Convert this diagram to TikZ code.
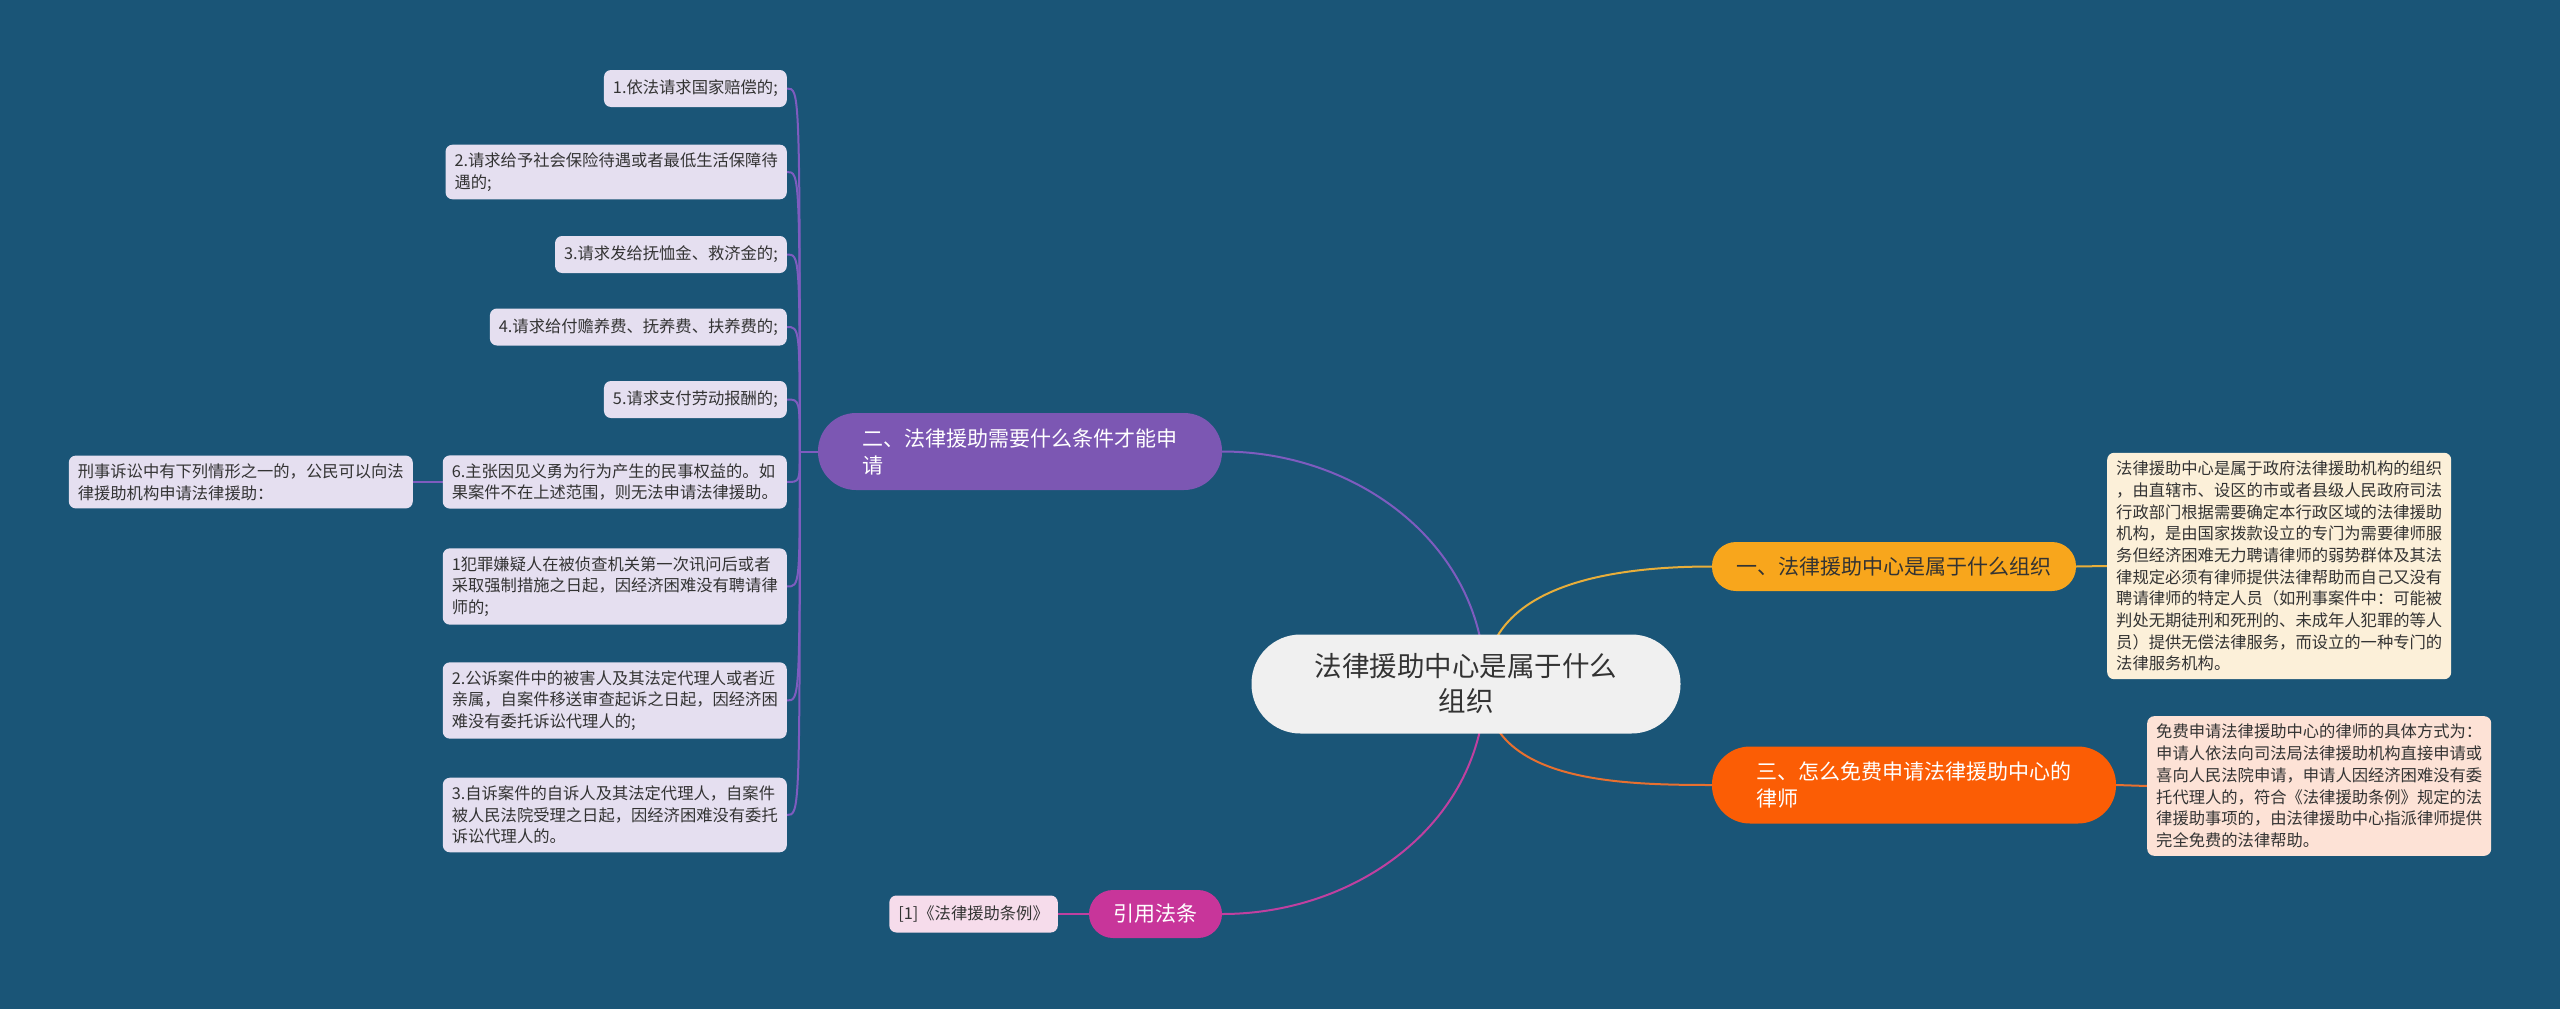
\documentclass[tikz,border=0pt]{standalone}
\usepackage{fontspec}
\setmainfont{Noto Sans CJK SC}

\definecolor{bgblue}{HTML}{1A5577}
\definecolor{textdark}{HTML}{333333}
\definecolor{rootgray}{HTML}{F0F0F0}
\definecolor{yellowfill}{HTML}{F8A61C}
\definecolor{yellowline}{HTML}{E8AE3A}
\definecolor{purplefill}{HTML}{7C57B3}
\definecolor{purpleline}{HTML}{7E5CBF}
\definecolor{orangefill}{HTML}{FB5D05}
\definecolor{orangeline}{HTML}{E8702F}
\definecolor{magentafill}{HTML}{C8359A}
\definecolor{magentaline}{HTML}{C040A0}
\definecolor{lavender}{HTML}{E5DFF0}
\definecolor{cream}{HTML}{FCF0D9}
\definecolor{peach}{HTML}{FDE2D6}
\definecolor{pink}{HTML}{F6DCEB}

\pgfdeclarelayer{bgl}
\pgfdeclarelayer{links}
\pgfsetlayers{bgl,links,main}

\tikzset{
  rootbox/.style={fill=rootgray, text=textdark, rounded corners=49pt, minimum width=429pt,
    minimum height=99pt, align=center, font=\fontsize{27.5}{35}\selectfont},
  topicbox/.style={rounded corners=24pt, minimum height=49pt, font=\fontsize{21}{27}\selectfont},
  widetopic/.style={topicbox, rounded corners=38pt, minimum width=404pt, minimum height=77pt,
    text width=316pt, align=left, text=white},
  leafbox/.style={fill=lavender, text=textdark, rounded corners=7pt, inner xsep=9pt, inner ysep=8pt,
    minimum height=37pt, align=left, font=\fontsize{16.3}{21.7}\selectfont},
  link/.style={line width=2pt}
}

\begin{document}
\begin{tikzpicture}[x=1pt,y=-1pt]
  % background
  \begin{pgfonlayer}{bgl}
    \fill[bgblue] (0,0) rectangle (2560,1009);
  \end{pgfonlayer}
  \useasboundingbox (0,0) rectangle (2560,1009);

  % root
  \node[rootbox] (root) at (1466,684) {法律援助中心是属于什么\\组织};
  \coordinate (hub) at ([xshift=19pt]root.center);

  % topics
  \node[topicbox, fill=yellowfill, text=textdark, minimum width=364pt] (b1) at (1894,566.5) {一、法律援助中心是属于什么组织};
  \node[widetopic, fill=purplefill] (b2) at (1020,451.5) {二、法律援助需要什么条件才能申\\请};
  \node[widetopic, fill=orangefill] (b3) at (1914,785) {三、怎么免费申请法律援助中心的\\律师};
  \node[topicbox, fill=magentafill, text=white, minimum width=133pt, minimum height=48pt] (b4) at (1155.5,914) {引用法条};

  % right leaves
  \node[leafbox, fill=cream, anchor=west] (r1) at (2107,566) {法律援助中心是属于政府法律援助机构的组织\\，由直辖市、设区的市或者县级人民政府司法\\行政部门根据需要确定本行政区域的法律援助\\机构，是由国家拨款设立的专门为需要律师服\\务但经济困难无力聘请律师的弱势群体及其法\\律规定必须有律师提供法律帮助而自己又没有\\聘请律师的特定人员（如刑事案件中：可能被\\判处无期徒刑和死刑的、未成年人犯罪的等人\\员）提供无偿法律服务，而设立的一种专门的\\法律服务机构。};
  \node[leafbox, fill=peach, anchor=west] (r3) at (2147,786) {免费申请法律援助中心的律师的具体方式为：\\申请人依法向司法局法律援助机构直接申请或\\喜向人民法院申请，申请人因经济困难没有委\\托代理人的，符合《法律援助条例》规定的法\\律援助事项的，由法律援助中心指派律师提供\\完全免费的法律帮助。};

  % left leaves
  \node[leafbox, anchor=east] (a1) at (787,88.5) {1.依法请求国家赔偿的;};
  \node[leafbox, anchor=east] (a2) at (787,172) {2.请求给予社会保险待遇或者最低生活保障待\\遇的;};
  \node[leafbox, anchor=east] (a3) at (787,254.5) {3.请求发给抚恤金、救济金的;};
  \node[leafbox, anchor=east] (a4) at (787,327) {4.请求给付赡养费、抚养费、扶养费的;};
  \node[leafbox, anchor=east] (a5) at (787,399.5) {5.请求支付劳动报酬的;};
  \node[leafbox, anchor=east] (a6) at (787,482) {6.主张因见义勇为行为产生的民事权益的。如\\果案件不在上述范围，则无法申请法律援助。};
  \node[leafbox, anchor=east] (a7) at (787,586.5) {1犯罪嫌疑人在被侦查机关第一次讯问后或者\\采取强制措施之日起，因经济困难没有聘请律\\师的;};
  \node[leafbox, anchor=east] (a8) at (787,700.5) {2.公诉案件中的被害人及其法定代理人或者近\\亲属，自案件移送审查起诉之日起，因经济困\\难没有委托诉讼代理人的;};
  \node[leafbox, anchor=east] (a9) at (787,815) {3.自诉案件的自诉人及其法定代理人，自案件\\被人民法院受理之日起，因经济困难没有委托\\诉讼代理人的。};
  \node[leafbox, anchor=east] (s6) at (413,482) {刑事诉讼中有下列情形之一的，公民可以向法\\律援助机构申请法律援助：};
  \node[leafbox, fill=pink, anchor=east] (c1) at (1058,914) {[1]《法律援助条例》};

  % links
  \begin{pgfonlayer}{links}
    \draw[link, yellowline] (hub) to[out=90,in=180] (b1.west);
    \draw[link, purpleline] (hub) to[out=90,in=0] (b2.east);
    \draw[link, orangeline] (hub) to[out=-90,in=180] (b3.west);
    \draw[link, magentaline] (hub) to[out=-90,in=0] (b4.east);
    \draw[link, yellowline] (b1.east) -- (r1.west);
    \draw[link, orangeline] (b3.east) -- (r3.west);
    \draw[link, magentaline] (b4.west) -- (c1.east);
    \coordinate (spine) at ([xshift=-18pt]b2.west);
    \draw[link, purpleline] (b2.west) -- (spine);
    \foreach \n in {1,...,9}
      \draw[link, purpleline] (spine) .. controls (spine |- a\n) and (spine |- a\n) .. (a\n.east);
    \draw[link, purpleline] (a6.west) -- (s6.east);
  \end{pgfonlayer}
\end{tikzpicture}
\end{document}
